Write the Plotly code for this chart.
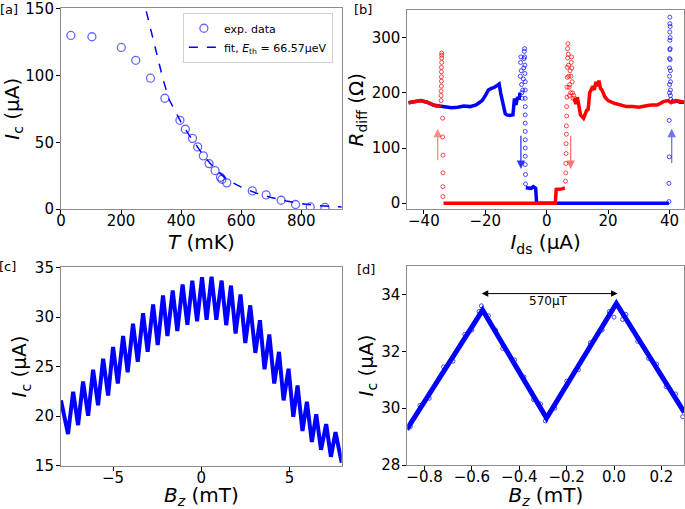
import plotly.graph_objects as go

# ---- panel [a]: Ic vs T
temp_mK = [33, 103, 201, 249, 298, 346, 396, 414, 438, 455, 474, 493, 513, 531, 536, 552, 637, 683, 733, 781, 830, 879]
ic_temp = [130, 129, 121, 111.4, 98, 83, 66.5, 59.8, 53, 46.6, 39.9, 34.1, 28.9, 23.9, 22.4, 19.7, 13.7, 10.7, 6.7, 3.5, 1.7, 1.3]
fit_T = [284, 300, 320, 340, 360, 380, 400, 425, 450, 475, 500, 525, 550, 600, 650, 700, 750, 800, 850, 900, 935]
fit_I = [148, 133, 115, 97, 82, 73, 65, 56, 48, 40, 33.5, 28, 22.5, 16.5, 12, 8.8, 6.2, 4.2, 2.8, 2.0, 1.6]

# ---- panel [b]: Rdiff vs Ids (two sweeps)
blue_left_x = [-45, -43, -41, -39, -37, -35, -33, -31, -29, -27, -25, -23, -22, -21, -20, -19, -18, -17, -16, -15.5, -15, -14.5, -14, -13.5, -13, -12, -11, -10.5, -10, -9.5, -9, -8.7]
blue_left_y = [182, 184, 186, 183, 178, 176, 175, 173, 174, 176, 175, 178, 182, 186, 195, 205, 208, 210, 214, 216, 200, 185, 170, 162, 160, 159, 160, 190, 178, 192, 188, 200]
blue_jump_x = [-8.6, -8.5, -8.4, -8.3, -8.2, -8.1, -8.0, -7.8, -7.6, -7.5, -7.4, -7.3, -7.2, -7.2, -7.1, -7.1, -7.0, -7.0, -7.0, -7.0, -7.0, -7.0, -7.0, -7.0, -7.0, -7.0, -7.0, -6.9, -6.9]
blue_jump_y = [230, 255, 265, 240, 215, 200, 190, 205, 225, 245, 262, 275, 280, 265, 250, 235, 220, 205, 190, 175, 160, 145, 130, 115, 100, 85, 70, 52, 35]
blue_mid_x = [-6.8, -6.0, -5.0, -4.4, -4.0, -3.6, -3.4, -3.3, 0, 20, 39.8]
blue_mid_y = [28, 27, 27, 30, 28, 27, 10, 0, 0, 0, 0]
blue_spike_x = [39.8, 39.8, 39.9, 39.9, 40.0, 40.0, 40.0, 40.0, 40.0, 40.1, 40.1, 40.1, 40.1, 40.1, 40.2, 40.2, 40.2, 40.2, 40.3, 40.3, 40.3, 40.3, 40.4]
blue_spike_y = [3, 36, 84, 150, 200, 215, 230, 245, 262, 278, 295, 310, 325, 337, 320, 300, 280, 260, 240, 220, 205, 195, 188]
blue_right_x = [40.5, 41.5, 42.5, 43.5, 45]
blue_right_y = [186, 184, 185, 183, 183]

red_left_x = [-45, -43, -41, -39, -37.5, -36, -35, -34.5]
red_left_y = [182, 184, 186, 183, 179, 176, 176, 178]
red_spike_x = [-34.4, -34.4, -34.4, -34.3, -34.3, -34.3, -34.3, -34.3, -34.2, -34.2, -34.2, -34.2, -33.9, -33.9, -33.8, -33.8, -33.8, -33.8]
red_spike_y = [186, 195, 203, 212, 221, 229, 238, 246, 255, 263, 268, 272, 154, 120, 87, 55, 30, 12]
red_mid_x = [-33.6, -20, 0, 2.8, 3.1, 4.0, 5.0, 5.9]
red_mid_y = [0, 0, 0, 0, 25, 25, 26, 28]
red_jump_x = [6.1, 6.2, 6.2, 6.3, 6.3, 6.4, 6.4, 6.5, 6.5, 6.6, 6.6, 6.7, 6.7, 6.8, 6.8, 6.9, 7.0, 7.1, 7.2, 7.3, 7.4, 7.5, 7.6, 7.8, 7.9, 8.0, 8.1, 8.2, 8.3, 8.4, 8.6, 8.8]
red_jump_y = [40, 55, 72, 90, 108, 125, 140, 158, 175, 192, 210, 228, 246, 263, 280, 289, 270, 250, 230, 210, 195, 215, 240, 200, 230, 255, 265, 245, 220, 200, 190, 195]
red_right_x = [8.9, 9.5, 10, 10.5, 11, 12, 13, 13.5, 14, 14.5, 15, 15.5, 16, 16.5, 17, 17.5, 18, 19, 20, 22, 24, 26, 28, 30, 32, 34, 36, 38, 39.5, 40.5, 42, 43.5, 45]
red_right_y = [190, 180, 192, 178, 160, 154, 168, 170, 200, 206, 212, 205, 220, 212, 222, 208, 205, 192, 186, 181, 178, 175, 175, 174, 176, 178, 178, 184, 186, 182, 186, 184, 183]

arrow_x = [-35.5, -8.4, 7.8, 40.7]
arrow_tail = [75, 125, 125, 70]
arrow_head = [135, 62, 62, 135]
arrow_col = ['rgba(255,0,0,0.45)', 'rgba(0,0,255,0.8)', 'rgba(255,0,0,0.55)', 'rgba(0,0,255,0.55)']

# ---- panel [c]: Ic vs Bz (wide field)
bz_c = [-7.95, -7.55, -7.26, -6.98, -6.70, -6.41, -6.13, -5.85, -5.56, -5.28, -5.0, -4.73, -4.43, -4.17, -3.87, -3.6,
        -3.30, -3.04, -2.73, -2.47, -2.17, -1.92, -1.62, -1.36, -1.06, -0.79, -0.51, -0.24, 0.04, 0.30, 0.58, 0.85,
        1.15, 1.41, 1.68, 1.94, 2.22, 2.49, 2.77, 3.06, 3.32, 3.58, 3.85, 4.13, 4.40, 4.66, 4.94, 5.21, 5.45, 5.73,
        5.98, 6.26, 6.51, 6.78, 7.07, 7.34, 7.6, 7.95]
ic_c = [21.6, 18.2, 22.46, 19.1, 23.5, 20.04, 24.7, 21.1, 25.8, 22.1, 27.0, 23.3, 28.1, 24.45, 29.35, 25.5,
        30.4, 26.5, 31.3, 27.2, 32.2, 28.1, 32.7, 28.6, 33.3, 29.25, 33.7, 29.6, 34.05, 29.75, 34.1, 29.75,
        33.7, 29.2, 33.2, 28.35, 32.3, 27.4, 31.2, 26.4, 29.7, 24.75, 28.25, 23.3, 26.5, 21.6, 24.8, 19.95, 23.1, 18.5,
        21.45, 17.4, 20.2, 16.6, 19.2, 15.9, 18.4, 15.3]

# ---- panel [d]: Ic vs Bz (zoom)
bz_d = [-0.875, -0.555, -0.285, 0.01, 0.297]
ic_d = [29.25, 33.45, 29.65, 33.68, 29.85]
bz_d_pts = [-0.86, -0.82, -0.78, -0.72, -0.68, -0.63, -0.60, -0.57, -0.56, -0.53, -0.50, -0.47, -0.42, -0.38, -0.34, -0.31, -0.29,
            -0.25, -0.20, -0.15, -0.10, -0.05, -0.02, 0.0, 0.036, 0.05, 0.10, 0.146, 0.18, 0.22, 0.26, 0.29]
ic_d_pts = [29.35, 30.1, 30.35, 31.45, 31.65, 32.6, 32.75, 33.4, 33.6, 33.25, 32.75, 32.1, 31.7, 31.1, 30.3, 30.15, 29.55,
            30.0, 30.95, 31.35, 32.3, 32.75, 33.4, 33.2, 33.12, 33.3, 32.35, 31.75, 31.55, 30.75, 30.5, 29.7]
d_tickvals = [-0.8, -0.6, -0.4, -0.2, 0.0, 0.2]
d_ticktext = ['\u22120.8', '\u22120.6', '\u22120.4', '\u22120.2', '0.0', '0.2']

BLUE = '#0000ff'
RED = '#ff0000'

fig = go.Figure()

# [a]
fig.add_trace(go.Scatter(x=temp_mK, y=ic_temp, mode='markers', name='exp. data',
                         marker=dict(symbol='circle-open', size=8, color='rgba(0,0,255,0.6)', line=dict(width=1.3)),
                         xaxis='x', yaxis='y'))
fig.add_trace(go.Scatter(x=fit_T, y=fit_I, mode='lines', name='fit, <i>E</i><sub>th</sub> = 66.57μeV',
                         line=dict(color=BLUE, width=1.5, dash='dash'), xaxis='x', yaxis='y'))

# [b]
def line_b(x, y, c):
    fig.add_trace(go.Scatter(x=x, y=y, mode='lines', line=dict(color=c, width=3.5), showlegend=False,
                             xaxis='x2', yaxis='y2'))

def dots_b(x, y, c):
    fig.add_trace(go.Scatter(x=x, y=y, mode='markers', showlegend=False,
                             marker=dict(symbol='circle-open', size=4, color=c, line=dict(width=1)),
                             xaxis='x2', yaxis='y2'))

line_b(blue_left_x, blue_left_y, BLUE)
dots_b(blue_jump_x, blue_jump_y, 'rgba(0,0,255,0.7)')
line_b(blue_mid_x, blue_mid_y, BLUE)
dots_b(blue_spike_x, blue_spike_y, 'rgba(0,0,255,0.7)')
line_b(blue_right_x, blue_right_y, BLUE)
line_b(red_left_x, red_left_y, RED)
dots_b(red_spike_x, red_spike_y, 'rgba(255,0,0,0.7)')
line_b(red_mid_x, red_mid_y, RED)
dots_b(red_jump_x, red_jump_y, 'rgba(255,0,0,0.7)')
line_b(red_right_x, red_right_y, RED)

# [c]
fig.add_trace(go.Scatter(x=bz_c, y=ic_c, mode='lines', line=dict(color=BLUE, width=4), showlegend=False,
                         xaxis='x3', yaxis='y3'))

# [d]
fig.add_trace(go.Scatter(x=bz_d, y=ic_d, mode='lines', line=dict(color=BLUE, width=5), showlegend=False,
                         xaxis='x4', yaxis='y4'))
fig.add_trace(go.Scatter(x=bz_d_pts, y=ic_d_pts, mode='markers', showlegend=False,
                         marker=dict(symbol='circle-open', size=4, color='rgba(0,0,255,0.7)', line=dict(width=1)),
                         xaxis='x4', yaxis='y4'))

ax = dict(showline=True, linecolor='#8c8c8c', linewidth=1, mirror=True, ticks='outside', ticklen=4,
          tickcolor='black', tickfont=dict(size=15, color='black'), showgrid=False, zeroline=False,
          automargin=False, ticklabeloverflow='allow')
xax = dict(ax, ticklabelstandoff=-6)
yax = dict(ax, ticklabelstandoff=-1)
tfont = dict(size=20, color='black')

fig.update_layout(
    width=685, height=509, margin=dict(l=0, r=0, t=0, b=0),
    paper_bgcolor='white', plot_bgcolor='white',
    font=dict(family='DejaVu Sans', color='black'),
    xaxis=dict(xax, domain=[0.089, 0.499], range=[0, 935], tickvals=[0, 200, 400, 600, 800], anchor='y',
               title=dict(text='<i>T</i> (mK)', font=tfont, standoff=0)),
    yaxis=dict(yax, domain=[0.589, 0.984], range=[0, 150.4], tickvals=[0, 50, 100, 150], anchor='x',
               title=dict(text='<i>I</i><sub>c</sub> (μA)', font=tfont, standoff=2)),
    xaxis2=dict(xax, domain=[0.5946, 0.9985], range=[-45.4, 44.7], tickvals=[-40, -20, 0, 20, 40], anchor='y2',
                title=dict(text='<i>I</i><sub>ds</sub> (μA)', font=tfont, standoff=0)),
    yaxis2=dict(yax, domain=[0.5888, 0.9804], range=[-11, 350], tickvals=[0, 100, 200, 300], anchor='x2',
                title=dict(text='<i>R</i><sub>diff</sub> (Ω)', font=tfont, standoff=2)),
    xaxis3=dict(xax, domain=[0.089, 0.4988], range=[-7.95, 7.95], tickvals=[-5, 0, 5], anchor='y3',
                title=dict(text='<i>B<sub>z</sub></i> (mT)', font=tfont, standoff=0)),
    yaxis3=dict(yax, domain=[0.0851, 0.4749], range=[15, 35.05], tickvals=[15, 20, 25, 30, 35], anchor='x3',
                title=dict(text='<i>I</i><sub>c</sub> (μA)', font=tfont, standoff=2)),
    xaxis4=dict(xax, domain=[0.5946, 0.999], range=[-0.873, 0.297], tickvals=d_tickvals, ticktext=d_ticktext,
                anchor='y4', title=dict(text='<i>B<sub>z</sub></i> (mT)', font=tfont, standoff=0)),
    yaxis4=dict(yax, domain=[0.0864, 0.4774], range=[28, 35], tickvals=[28, 30, 32, 34], anchor='x4',
                title=dict(text='<i>I</i><sub>c</sub> (μA)', font=tfont, standoff=2)),
    legend=dict(x=0.267, y=0.975, xanchor='left', yanchor='top', bgcolor='white', bordercolor='#d0d0d0',
                borderwidth=1, font=dict(size=11), tracegroupgap=0),
)

ann = []
for lab, px, py in [('[a]', 9, 10), ('[b]', 363, 10), ('[c]', 8, 266), ('[d]', 366, 269)]:
    ann.append(dict(text=lab, x=px / 685, y=1 - py / 509, xref='paper', yref='paper', showarrow=False,
                    font=dict(size=13), xanchor='center', yanchor='middle'))
for xx, t, h, c in zip(arrow_x, arrow_tail, arrow_head, arrow_col):
    ann.append(dict(x=xx, y=h, ax=xx, ay=t, xref='x2', yref='y2', axref='x2', ayref='y2', text='',
                    showarrow=True, arrowhead=2, arrowsize=1.3, arrowwidth=1.3, arrowcolor=c))
ann.append(dict(x=0.015, y=34.03, ax=-0.565, ay=34.03, xref='x4', yref='y4', axref='x4', ayref='y4', text='',
                showarrow=True, arrowhead=2, startarrowhead=2, arrowside='end+start', arrowsize=1.3,
                arrowwidth=1, arrowcolor='black'))
ann.append(dict(x=-0.275, y=33.76, xref='x4', yref='y4', text='570μT', showarrow=False, font=dict(size=12)))
fig.update_layout(annotations=ann)

# page body has a default margin; drop it so the figure sits at the window's corner
fig.write_html("out.html", config={'displayModeBar': False},
               post_script="document.body.style.margin='0';")
